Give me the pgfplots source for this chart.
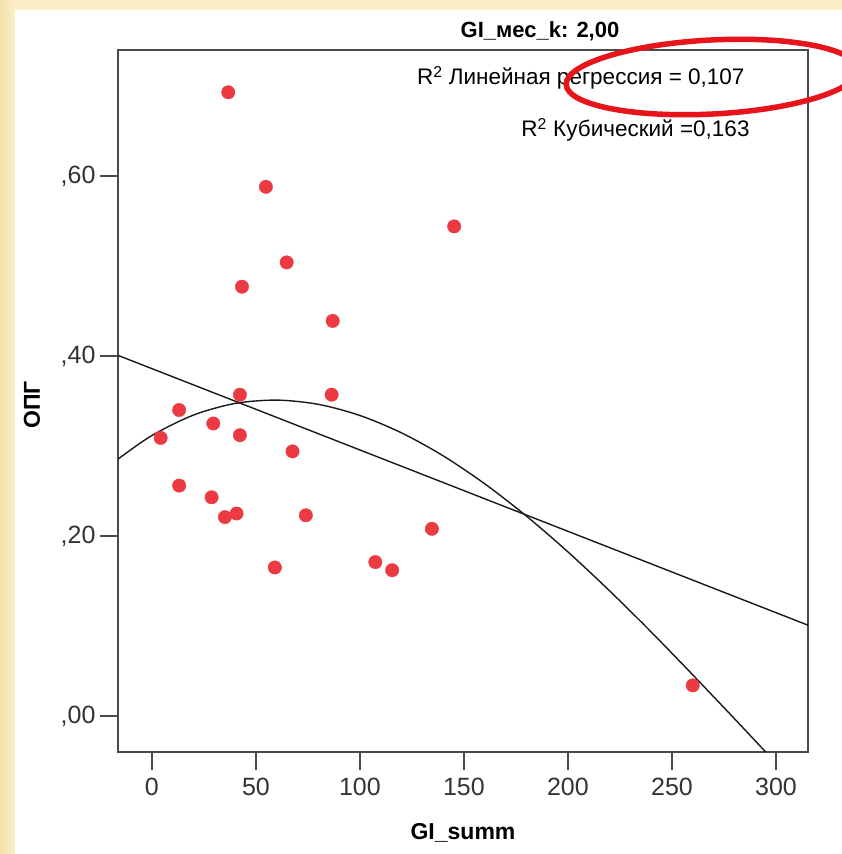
\documentclass[border=0pt]{standalone}
\usepackage{pgfplots}
\pgfplotsset{compat=1.18}
\usepackage{fontspec}
\setmainfont{Liberation Sans}

\definecolor{paper}{HTML}{FCEFC8}
\definecolor{paperdark}{HTML}{F4E2AE}
\definecolor{pointred}{HTML}{EC3A42}
\definecolor{markred}{HTML}{E8141C}
\definecolor{frame}{HTML}{4A4A4A}

% scatter data: GI_summ vs OPG
\pgfplotstableread{
x      y
36.7   0.693
54.8   0.588
145.3  0.544
64.8   0.504
43.3   0.477
86.9   0.439
42.3   0.357
86.4   0.357
13.1   0.340
4.2    0.309
29.5   0.325
42.3   0.312
67.6   0.294
13.1   0.256
28.7   0.243
35.1   0.221
40.7   0.225
74.0   0.223
134.6  0.208
59.1   0.165
107.4  0.171
115.5  0.162
260.0  0.034
}\scatterdata

% linear fit
\pgfplotstableread{
x      y
-16.3  0.4007
315.4  0.1009
}\linfit

% cubic fit
\pgfplotstableread{
x      y
-16.3  0.2854
0      0.3117
20     0.3344
40     0.3473
60     0.3510
80     0.3463
100    0.3339
120    0.3146
140    0.2891
160    0.2580
180    0.2222
200    0.1823
220    0.1391
240    0.0934
260    0.0457
280   -0.0029
300   -0.0522
}\cubfit

\begin{document}
\begin{tikzpicture}[x=1pt,y=1pt]
\useasboundingbox (0,0) rectangle (842,854);
% page background
\fill[paper] (0,0) rectangle (842,854);
\shade[left color=paperdark, right color=paper] (0,0) rectangle (15,854);
\fill[white] (15,0) rectangle (842,844);

\begin{axis}[
  at={(118pt,102pt)}, anchor=south west,
  width=690pt, height=702pt, scale only axis,
  xmin=-16.3, xmax=315.4, ymin=-0.04, ymax=0.74,
  xtick={0,50,100,150,200,250,300},
  ytick={0,0.2,0.4,0.6},
  yticklabels={{,00},{,20},{,40},{,60}},
  /pgf/number format/assume math mode=true,
  tick align=outside,
  major tick length=18pt,
  xtick pos=bottom, ytick pos=left,
  axis line style={draw=frame, line width=1.8pt},
  every tick/.style={draw=frame, line width=1.8pt},
  tick label style={font=\fontsize{25}{28}\selectfont, text=black!80},
  xticklabel style={yshift=-5pt},
  yticklabel style={xshift=-1pt},
  clip=true,
]
\addplot[only marks, mark=*, mark size=6.7pt, color=pointred, mark options={draw=none, fill=pointred}] table[x=x,y=y] {\scatterdata};
\addplot[black!90, line width=1.4pt] table[x=x,y=y] {\linfit};
\addplot[black!90, line width=1.4pt, smooth] table[x=x,y=y] {\cubfit};
\end{axis}

% axis titles
\node[font=\fontsize{23}{26}\selectfont\bfseries] at (463,21) {GI\_summ};
\node[font=\fontsize{23}{26}\selectfont\bfseries, rotate=90] at (32,449) {ОПГ};

% panel title and fit statistics
\node[font=\fontsize{22}{25}\selectfont\bfseries] at (540,823) {GI\_мес\_k: 2,00};
\node[font=\fontsize{22.5}{25}\selectfont, anchor=east] at (748,776) {R\textsuperscript{2} Линейная регрессия = 0,107};
\node[font=\fontsize{22.5}{25}\selectfont, anchor=east] at (753,724) {R\textsuperscript{2} Кубический =0,163};

% highlight ring
\begin{scope}
\clip (0,0) rectangle (842,854);
\draw[markred, line width=5.5pt, rotate around={3:(712,777)}] (712,777) ellipse [x radius=146, y radius=37];
\end{scope}
\end{tikzpicture}
\end{document}
